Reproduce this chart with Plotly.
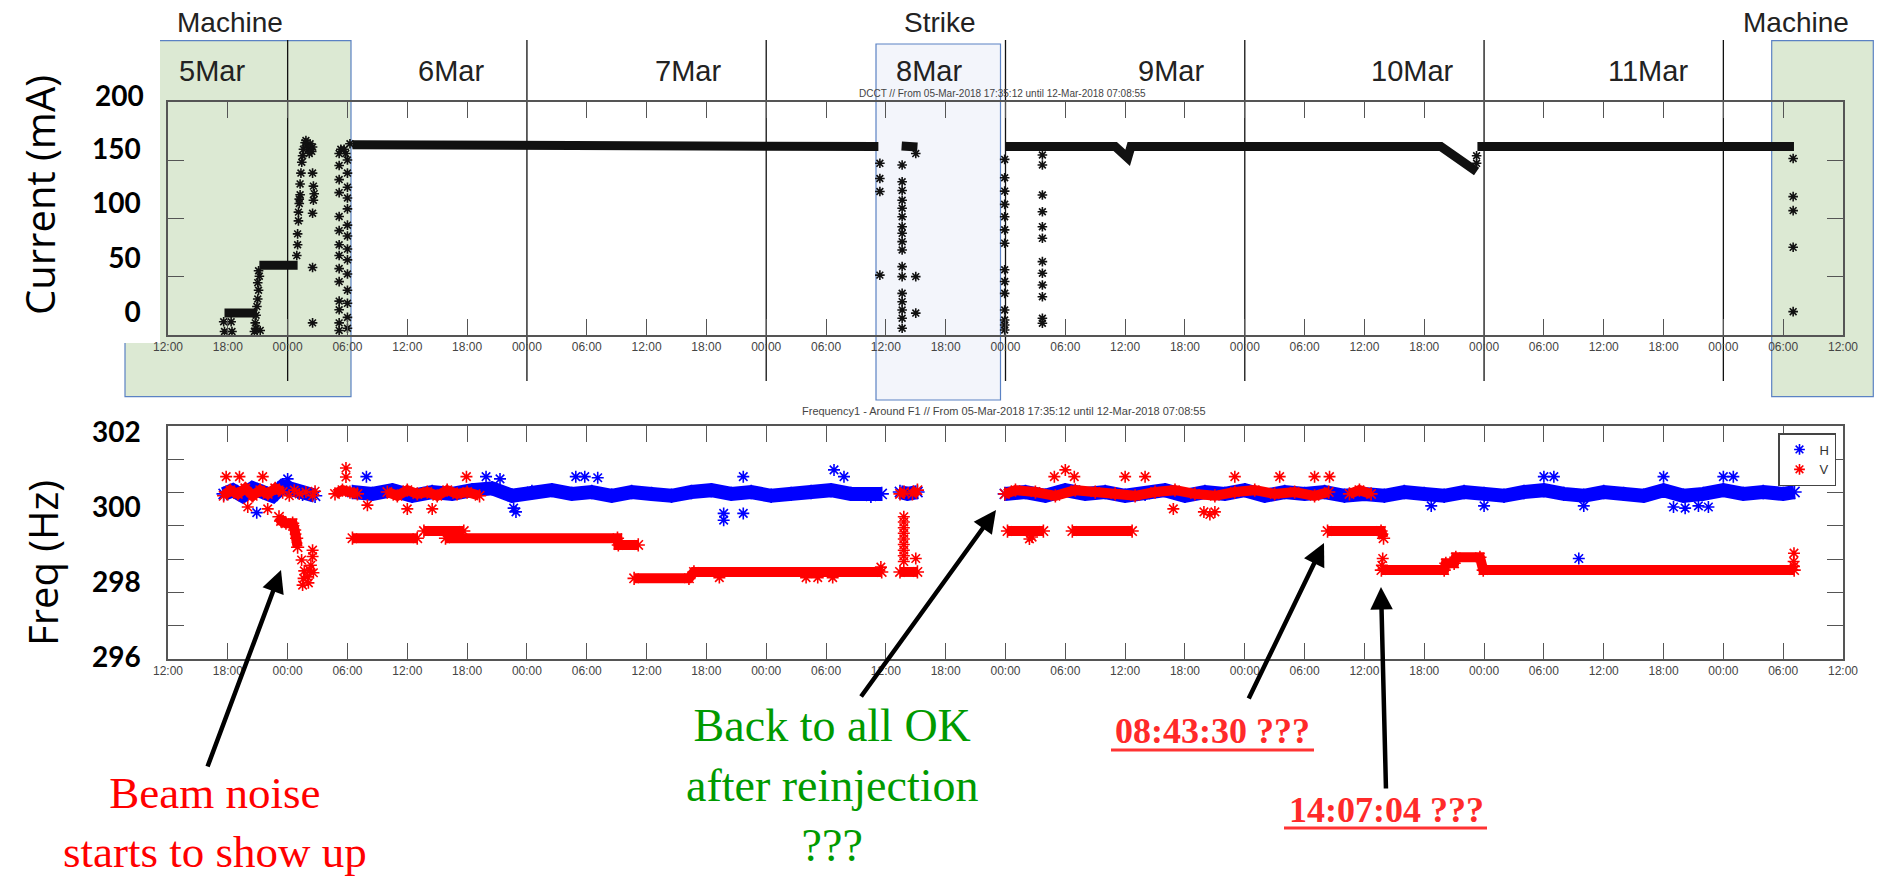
import plotly.graph_objects as go

# ---------------- DATA ----------------
# Top panel: beam current (mA)
cur_band_time = ["2018-03-05 17:40", "2018-03-05 20:55", None,
                 "2018-03-05 21:10", "2018-03-06 01:00", None,
                 "2018-03-06 06:30", "2018-03-08 11:15", None,
                 "2018-03-08 13:35", "2018-03-08 15:10", None,
                 "2018-03-08 23:58", "2018-03-09 11:00", "2018-03-09 12:15", "2018-03-09 12:35",
                 "2018-03-10 19:40", "2018-03-10 23:15", None,
                 "2018-03-10 23:20", "2018-03-12 07:05"]
cur_band_value = [-1, -1, None,
                  43, 43, None,
                  154, 152.5, None,
                  153, 152, None,
                  152.5, 152.5, 142, 152.5,
                  152.5, 129.5, None,
                  152.5, 152.5]

cur_pts_time = ["2018-03-05 17:35", "2018-03-05 17:40", "2018-03-05 18:20", "2018-03-05 18:25",
                "2018-03-05 20:40", "2018-03-05 20:45", "2018-03-05 20:50", "2018-03-05 20:55", "2018-03-05 21:00",
                "2018-03-05 21:05", "2018-03-05 21:00", "2018-03-05 21:10", "2018-03-05 21:05", "2018-03-05 20:50", "2018-03-05 21:15",
                "2018-03-06 00:55", "2018-03-06 01:00", "2018-03-06 01:00", "2018-03-06 01:05", "2018-03-06 01:05", "2018-03-06 01:10",
                "2018-03-06 01:10", "2018-03-06 01:15", "2018-03-06 01:15", "2018-03-06 01:20",
                "2018-03-06 01:25", "2018-03-06 01:35", "2018-03-06 01:45", "2018-03-06 01:55", "2018-03-06 02:05", "2018-03-06 02:15", "2018-03-06 02:25",
                "2018-03-06 01:30", "2018-03-06 01:50", "2018-03-06 02:10", "2018-03-06 02:30",
                "2018-03-06 02:30", "2018-03-06 02:35", "2018-03-06 02:40", "2018-03-06 02:35", "2018-03-06 02:30", "2018-03-06 02:30", "2018-03-06 02:30",
                "2018-03-06 05:10", "2018-03-06 05:10", "2018-03-06 05:10", "2018-03-06 05:10", "2018-03-06 05:10", "2018-03-06 05:10",
                "2018-03-06 05:10", "2018-03-06 05:10", "2018-03-06 05:10", "2018-03-06 05:10", "2018-03-06 05:10", "2018-03-06 05:10",
                "2018-03-06 05:10", "2018-03-06 05:10", "2018-03-06 05:20",
                "2018-03-06 06:00", "2018-03-06 06:00", "2018-03-06 06:00", "2018-03-06 06:00", "2018-03-06 06:00", "2018-03-06 06:00",
                "2018-03-06 06:00", "2018-03-06 06:00", "2018-03-06 06:00", "2018-03-06 06:00", "2018-03-06 06:00", "2018-03-06 06:00",
                "2018-03-06 06:00", "2018-03-06 06:00", "2018-03-06 05:40", "2018-03-06 05:50", "2018-03-06 06:15",
                "2018-03-08 11:24", "2018-03-08 11:24", "2018-03-08 11:24", "2018-03-08 11:24",
                "2018-03-08 13:38", "2018-03-08 13:38", "2018-03-08 13:38", "2018-03-08 13:38", "2018-03-08 13:38", "2018-03-08 13:38",
                "2018-03-08 13:38", "2018-03-08 13:38", "2018-03-08 13:38", "2018-03-08 13:38", "2018-03-08 13:38", "2018-03-08 13:38",
                "2018-03-08 13:38", "2018-03-08 13:38", "2018-03-08 13:38", "2018-03-08 13:38", "2018-03-08 13:38",
                "2018-03-08 15:00", "2018-03-08 15:00", "2018-03-08 15:00",
                "2018-03-08 23:55", "2018-03-08 23:55", "2018-03-08 23:55", "2018-03-08 23:55", "2018-03-08 23:55", "2018-03-08 23:55",
                "2018-03-08 23:55", "2018-03-08 23:55", "2018-03-08 23:55", "2018-03-08 23:55", "2018-03-08 23:55", "2018-03-08 23:55",
                "2018-03-08 23:55", "2018-03-08 23:55",
                "2018-03-09 03:42", "2018-03-09 03:42", "2018-03-09 03:42", "2018-03-09 03:42", "2018-03-09 03:42", "2018-03-09 03:42",
                "2018-03-09 03:42", "2018-03-09 03:42", "2018-03-09 03:42", "2018-03-09 03:42", "2018-03-09 03:42", "2018-03-09 03:42",
                "2018-03-10 23:15", "2018-03-10 23:15",
                "2018-03-12 07:00", "2018-03-12 07:00", "2018-03-12 07:00", "2018-03-12 07:00", "2018-03-12 07:00"]
cur_pts_value = [-9, -18, -9, -18,
                 -18, -10, -3, 5, 12,
                 20, 27, 33, 38, -15, -17,
                 52, 62, 72, 84, 92, 100,
                 104, 108, 118, 128,
                 138, 150, 156, 153, 150, 155, 148,
                 144, 158, 146, 152,
                 128, 116, 109, 103, 91, 41, -10,
                 -17, -10, 2, 10, 28, 40,
                 52, 62, 75, 88, 110, 122,
                 135, 146, 150,
                 -15, -5, 8, 20, 35, 48,
                 58, 70, 80, 95, 105, 115,
                 128, 140, 150, 146, 155,
                 137, 123, 111, 34,
                 135.5, 120, 112, 103, 95.6, 87.8,
                 78.6, 72.5, 64.8, 57.1, 41.8, 32.6,
                 17.2, 9.5, 1.8, -5.8, -15,
                 146, 32.6, -1,
                 140.6, 123.7, 111.4, 99.2, 87.8, 75.7,
                 63.4, 38.9, 28.1, 17.2, 1.8, -7.4,
                 -12, -16.6,
                 144.7, 135.5, 107.8, 92.4, 78.6, 67.9,
                 46.4, 35.7, 24.9, 14.1, -5.8, -10.4,
                 144, 137,
                 141.5, 106.3, 93.4, 59.6, 0.3]

# Bottom panel: tune frequency, H (blue) band
h_band_time = ["2018-03-05 17:35", "2018-03-05 18:30", "2018-03-05 19:30", "2018-03-05 20:30", "2018-03-05 21:30",
               "2018-03-05 22:30", "2018-03-05 23:30", "2018-03-06 00:30", "2018-03-06 01:30", "2018-03-06 02:45", None,
               "2018-03-06 06:30", "2018-03-06 08:30", "2018-03-06 10:30", "2018-03-06 12:30", "2018-03-06 14:30",
               "2018-03-06 16:30", "2018-03-06 18:30", "2018-03-06 20:30", "2018-03-06 22:30",
               "2018-03-07 00:30", "2018-03-07 02:30", "2018-03-07 04:30", "2018-03-07 06:30", "2018-03-07 08:30",
               "2018-03-07 10:30", "2018-03-07 12:30", "2018-03-07 14:30", "2018-03-07 16:30", "2018-03-07 18:30",
               "2018-03-07 20:30", "2018-03-07 22:30",
               "2018-03-08 00:30", "2018-03-08 02:30", "2018-03-08 04:30", "2018-03-08 06:30", "2018-03-08 08:30",
               "2018-03-08 10:30", "2018-03-08 11:35", None,
               "2018-03-08 13:25", "2018-03-08 14:10", "2018-03-08 15:10", None,
               "2018-03-08 23:56", "2018-03-09 02:00", "2018-03-09 04:00", "2018-03-09 06:00", "2018-03-09 08:00",
               "2018-03-09 10:00", "2018-03-09 12:00", "2018-03-09 14:00", "2018-03-09 16:00", "2018-03-09 18:00",
               "2018-03-09 20:00", "2018-03-09 22:00",
               "2018-03-10 00:00", "2018-03-10 02:00", "2018-03-10 04:00", "2018-03-10 06:00", "2018-03-10 08:00",
               "2018-03-10 10:00", "2018-03-10 12:00", "2018-03-10 14:00", "2018-03-10 16:00", "2018-03-10 18:00",
               "2018-03-10 20:00", "2018-03-10 22:00",
               "2018-03-11 00:00", "2018-03-11 02:00", "2018-03-11 04:00", "2018-03-11 06:00", "2018-03-11 08:00",
               "2018-03-11 10:00", "2018-03-11 12:00", "2018-03-11 14:00", "2018-03-11 16:00", "2018-03-11 18:00",
               "2018-03-11 20:00", "2018-03-11 22:00",
               "2018-03-12 00:00", "2018-03-12 02:00", "2018-03-12 04:00", "2018-03-12 06:00", "2018-03-12 07:08"]
h_band_value = [300.35, 300.45, 300.3, 300.5, 300.4,
                300.3, 300.55, 300.45, 300.35, 300.3, None,
                300.4, 300.35, 300.45, 300.3, 300.4,
                300.35, 300.45, 300.5, 300.3,
                300.4, 300.45, 300.35, 300.4, 300.3,
                300.4, 300.35, 300.3, 300.4, 300.45,
                300.35, 300.4,
                300.3, 300.35, 300.4, 300.45, 300.35,
                300.3, 300.35, None,
                300.4, 300.35, 300.4, None,
                300.35, 300.4, 300.3, 300.45, 300.35,
                300.4, 300.3, 300.35, 300.45, 300.3,
                300.4, 300.35,
                300.45, 300.3, 300.4, 300.35, 300.4,
                300.3, 300.35, 300.3, 300.4, 300.35,
                300.3, 300.4,
                300.35, 300.3, 300.4, 300.45, 300.35,
                300.3, 300.4, 300.35, 300.3, 300.45,
                300.3, 300.35,
                300.45, 300.35, 300.4, 300.35, 300.4]

h_pts_time = ["2018-03-05 20:54", "2018-03-06 00:00", "2018-03-06 07:54", "2018-03-06 19:54", "2018-03-06 21:18",
              "2018-03-06 22:54", "2018-03-06 22:40", "2018-03-07 04:54", "2018-03-07 05:48", "2018-03-07 07:06",
              "2018-03-07 19:44", "2018-03-07 19:44", "2018-03-07 21:42", "2018-03-07 21:42", "2018-03-08 06:48",
              "2018-03-08 07:48", "2018-03-10 18:42", "2018-03-11 00:00", "2018-03-11 06:00", "2018-03-11 07:00",
              "2018-03-11 09:30", "2018-03-11 10:00", "2018-03-11 18:00", "2018-03-11 19:00", "2018-03-11 20:10",
              "2018-03-11 21:30", "2018-03-11 22:30", "2018-03-12 00:00", "2018-03-12 01:00"]
h_pts_value = [299.85, 300.75, 300.81, 300.81, 300.75,
               299.87, 299.97, 300.81, 300.81, 300.78,
               299.65, 299.83, 299.83, 300.81, 300.99,
               300.81, 300.03, 300.03, 300.81, 300.81,
               298.63, 300.03, 300.81, 300.0, 299.97,
               300.03, 300.0, 300.81, 300.81]

# Bottom panel: V (red) bands
v_band_time = ["2018-03-05 17:35", "2018-03-05 18:15", "2018-03-05 19:00", "2018-03-05 19:45", "2018-03-05 20:30",
               "2018-03-05 21:15", "2018-03-05 22:00", "2018-03-05 22:45", "2018-03-05 23:30", None,
               "2018-03-05 23:08", "2018-03-05 23:20", "2018-03-05 23:50", "2018-03-06 00:30", "2018-03-06 00:42",
               "2018-03-06 00:54", "2018-03-06 01:00", None,
               "2018-03-06 04:45", "2018-03-06 05:30", "2018-03-06 06:15", "2018-03-06 07:00", None,
               "2018-03-06 10:00", "2018-03-06 11:00", "2018-03-06 12:00", "2018-03-06 13:00", "2018-03-06 14:00",
               "2018-03-06 15:00", "2018-03-06 16:00", "2018-03-06 17:00", "2018-03-06 18:00", "2018-03-06 19:15", None,
               "2018-03-06 06:30", "2018-03-06 13:00", None,
               "2018-03-06 13:40", "2018-03-06 17:40", None,
               "2018-03-06 15:50", "2018-03-07 09:05", "2018-03-07 09:10", "2018-03-07 11:10", None,
               "2018-03-07 10:45", "2018-03-07 16:15", "2018-03-07 16:45", "2018-03-08 11:35", None,
               "2018-03-08 13:25", "2018-03-08 13:50", None,
               "2018-03-08 14:40", "2018-03-08 15:10", None,
               "2018-03-08 13:25", "2018-03-08 15:10", None,
               "2018-03-08 23:56", "2018-03-09 01:00", "2018-03-09 03:00", "2018-03-09 05:00", "2018-03-09 07:00",
               "2018-03-09 09:00", "2018-03-09 11:00", "2018-03-09 13:00", "2018-03-09 15:00", "2018-03-09 17:00",
               "2018-03-09 19:00", "2018-03-09 21:00", "2018-03-09 23:00", "2018-03-10 01:00", "2018-03-10 03:00",
               "2018-03-10 05:00", "2018-03-10 07:00", "2018-03-10 08:25", None,
               "2018-03-10 10:30", "2018-03-10 11:30", "2018-03-10 12:40", None,
               "2018-03-09 00:12", "2018-03-09 03:48", None,
               "2018-03-09 06:42", "2018-03-09 12:42", None,
               "2018-03-10 08:18", "2018-03-10 13:40", "2018-03-10 13:55", None,
               "2018-03-10 13:42", "2018-03-10 20:00", "2018-03-10 20:10", "2018-03-10 21:00", "2018-03-10 21:10",
               "2018-03-10 23:35", "2018-03-10 23:55", "2018-03-12 07:06"]
v_band_value = [300.3, 300.45, 300.35, 300.5, 300.3,
                300.45, 300.35, 300.5, 300.4, None,
                299.74, 299.63, 299.57, 299.57, 299.39,
                299.17, 298.93, None,
                300.35, 300.45, 300.4, 300.35, None,
                300.4, 300.3, 300.45, 300.35, 300.4,
                300.3, 300.45, 300.35, 300.4, 300.3, None,
                299.17, 299.17, None,
                299.36, 299.36, None,
                299.17, 299.17, 298.99, 298.99, None,
                298.1, 298.1, 298.27, 298.27, None,
                300.35, 300.4, None,
                300.35, 300.45, None,
                298.27, 298.27, None,
                300.35, 300.45, 300.4, 300.3, 300.45,
                300.4, 300.35, 300.3, 300.4, 300.45,
                300.35, 300.3, 300.4, 300.45, 300.35,
                300.4, 300.3, 300.4, None,
                300.35, 300.45, 300.35, None,
                299.36, 299.36, None,
                299.36, 299.36, None,
                299.36, 299.36, 299.17, None,
                298.32, 298.32, 298.5, 298.5, 298.66,
                298.66, 298.32, 298.32]

v_pts_time = ["2018-03-05 17:50", "2018-03-05 19:10", "2018-03-05 21:30", "2018-03-05 20:00", "2018-03-05 22:00",
              "2018-03-06 00:10", "2018-03-06 00:40", "2018-03-06 01:10", "2018-03-06 01:50", "2018-03-06 02:30", "2018-03-06 02:45",
              "2018-03-06 01:24", "2018-03-06 01:30", "2018-03-06 01:36", "2018-03-06 01:40", "2018-03-06 02:00", "2018-03-06 02:05",
              "2018-03-06 02:12", "2018-03-06 02:20", "2018-03-06 02:30", "2018-03-06 02:30", "2018-03-06 02:35",
              "2018-03-06 05:51", "2018-03-06 05:51", "2018-03-06 17:56", "2018-03-06 12:00", "2018-03-06 14:30", "2018-03-06 08:00",
              "2018-03-07 19:18", "2018-03-08 04:00", "2018-03-08 05:10", "2018-03-08 06:40", "2018-03-08 11:30",
              "2018-03-08 13:48", "2018-03-08 13:48", "2018-03-08 13:48", "2018-03-08 13:48", "2018-03-08 13:48",
              "2018-03-08 13:48", "2018-03-08 13:48", "2018-03-08 13:48", "2018-03-08 13:48", "2018-03-08 15:00",
              "2018-03-09 04:54", "2018-03-09 06:00", "2018-03-09 06:54", "2018-03-09 02:24", "2018-03-09 02:40",
              "2018-03-09 16:50", "2018-03-09 19:54", "2018-03-09 21:00", "2018-03-09 20:30", "2018-03-09 12:00",
              "2018-03-09 14:00", "2018-03-09 23:00", "2018-03-10 03:30", "2018-03-10 07:00", "2018-03-10 08:30",
              "2018-03-10 13:50", "2018-03-10 13:45",
              "2018-03-12 07:05", "2018-03-12 07:05", "2018-03-12 07:03"]
v_pts_value = [300.81, 300.81, 300.81, 300.0, 299.95,
               300.3, 300.45, 300.35, 300.4, 300.3, 300.42,
               298.59, 297.92, 298.1, 298.3, 298.14, 297.98,
               298.32, 298.45, 298.68, 298.85, 298.25,
               301.04, 300.8, 300.81, 299.95, 299.95, 300.05,
               298.12, 298.12, 298.12, 298.12, 298.4,
               299.74, 299.6, 299.45, 299.3, 299.15,
               299.0, 298.85, 298.7, 298.55, 298.63,
               300.81, 300.99, 300.81, 299.15, 299.2,
               299.95, 299.87, 299.87, 299.8, 300.81,
               300.81, 300.81, 300.81, 300.81, 300.81,
               298.63, 298.45,
               298.77, 298.42, 298.55]

day_lines = ["2018-03-06", "2018-03-07", "2018-03-08", "2018-03-09", "2018-03-10", "2018-03-11", "2018-03-12"]
day_labels = ["5Mar", "6Mar", "7Mar", "8Mar", "9Mar", "10Mar", "11Mar"]
day_label_x = [212, 451, 688, 929, 1171, 1412, 1648]

cur_ticks = [0, 50, 100, 150]
freq_ticks = [296, 298, 300, 302]

# ---------------- FIGURE ----------------
W, H = 1878, 880
def px(x):
    return x / W
def py(y):
    return 1 - y / H

BLUE = "#0000ff"
RED = "#ff0000"
fig = go.Figure()

star = lambda c, s=8: dict(symbol="asterisk-open", size=s, color=c, line=dict(color=c, width=1.6))

fig.add_trace(go.Scatter(x=cur_band_time, y=cur_band_value, mode="lines", line=dict(color="#111", width=9),
                         xaxis="x", yaxis="y", showlegend=False, hoverinfo="skip"))
fig.add_trace(go.Scatter(x=cur_pts_time, y=cur_pts_value, mode="markers", marker=star("#111", 8),
                         xaxis="x", yaxis="y", showlegend=False))

fig.add_trace(go.Scatter(x=h_band_time, y=h_band_value, mode="lines+markers", line=dict(color=BLUE, width=14),
                         marker=star(BLUE, 12), xaxis="x2", yaxis="y2", showlegend=False))
fig.add_trace(go.Scatter(x=h_pts_time, y=h_pts_value, mode="markers", marker=star(BLUE, 10),
                         xaxis="x2", yaxis="y2", showlegend=False))
fig.add_trace(go.Scatter(x=v_band_time, y=v_band_value, mode="lines+markers", line=dict(color=RED, width=10),
                         marker=star(RED, 11), xaxis="x2", yaxis="y2", showlegend=False))
fig.add_trace(go.Scatter(x=v_pts_time, y=v_pts_value, mode="markers", marker=star(RED, 10),
                         xaxis="x2", yaxis="y2", showlegend=False))
# legend entries
fig.add_trace(go.Scatter(x=[None], y=[None], mode="markers", marker=star(BLUE, 9), name="H", xaxis="x2", yaxis="y2"))
fig.add_trace(go.Scatter(x=[None], y=[None], mode="markers", marker=star(RED, 9), name="V", xaxis="x2", yaxis="y2"))

xcommon = dict(type="date", range=["2018-03-05 12:00", "2018-03-12 12:00"], tick0="2018-03-05 12:00",
               dtick=21600000, tickformat="%H:%M", ticks="inside", ticklen=16, tickwidth=1.4, tickcolor="#555",
               showline=True, linecolor="#555", linewidth=1.5, mirror="allticks", showgrid=False, zeroline=False,
               tickfont=dict(family="Liberation Sans Narrow, Liberation Sans, Arial", size=12, color="#444"),
               domain=[px(168), px(1843)], automargin=False)
ycommon = dict(showline=True, linecolor="#555", linewidth=1.5, mirror="allticks", showgrid=False, zeroline=False,
               ticks="", tickfont=dict(family="Lato, Open Sans", size=28, color="black", weight="bold"),
               ticklabelstandoff=20, automargin=False)

fig.update_layout(
    width=W, height=H, margin=dict(l=0, r=0, t=0, b=0, autoexpand=False),
    paper_bgcolor="white", plot_bgcolor="rgba(0,0,0,0)",
    xaxis=dict(**xcommon, anchor="y"),
    xaxis2=dict(**xcommon, anchor="y2"),
    yaxis=dict(**ycommon, domain=[py(335), py(102)], range=[-21.2, 193.5], tickvals=cur_ticks,
               minor=dict(tickvals=[32.5, 86.2, 139.9], ticks="inside", ticklen=16, tickwidth=1.4, tickcolor="#555")),
    yaxis2=dict(**ycommon, domain=[py(659), py(426)], range=[295.95, 302.16], tickvals=freq_ticks,
                minor=dict(tickvals=[296.83, 297.72, 298.61, 299.50, 300.38, 301.27], ticks="inside", ticklen=16,
                           tickwidth=1.4, tickcolor="#555")),
    legend=dict(x=px(1836), y=py(433), xanchor="right", yanchor="top", bgcolor="white",
                bordercolor="#444", borderwidth=1.5, font=dict(family="Liberation Sans", size=13, color="#333"),
                itemwidth=30, tracegroupgap=2),
)

GREEN = "#dce9d3"
BORDER = "#5b82c4"
shapes = [
    dict(type="rect", xref="paper", yref="paper", x0=px(125), x1=px(351), y0=py(396.7), y1=py(40.7),
         fillcolor=GREEN, line=dict(color=BORDER, width=1.2), layer="below"),
    dict(type="rect", xref="paper", yref="paper", x0=px(118), x1=px(160), y0=py(343), y1=py(36),
         fillcolor="white", line=dict(width=0), layer="below"),
    dict(type="rect", xref="paper", yref="paper", x0=px(876), x1=px(1000.5), y0=py(400), y1=py(44),
         fillcolor="#f3f5fb", line=dict(color=BORDER, width=1.2), layer="below"),
    dict(type="rect", xref="paper", yref="paper", x0=px(1771.7), x1=px(1873.3), y0=py(396.7), y1=py(40.7),
         fillcolor=GREEN, line=dict(color=BORDER, width=1.2), layer="below"),
]
for d in day_lines:
    shapes.append(dict(type="line", xref="x", yref="paper", x0=d, x1=d, y0=py(381), y1=py(40),
                       line=dict(color="#111", width=1.3), layer="below"))
# underlines for the timestamps
shapes.append(dict(type="line", xref="paper", yref="paper", x0=px(1111), x1=px(1314), y0=py(750), y1=py(750),
                   line=dict(color="#ff3333", width=3)))
shapes.append(dict(type="line", xref="paper", yref="paper", x0=px(1284), x1=px(1487), y0=py(828), y1=py(828),
                   line=dict(color="#ff3333", width=3)))
fig.update_layout(shapes=shapes)

ann = []
def txt(x, y, s, size, color="#111", family="Liberation Sans, Arial", angle=0, weight="normal", xanchor="center"):
    ann.append(dict(x=px(x), y=py(y), xref="paper", yref="paper", text=s, showarrow=False, textangle=angle,
                    xanchor=xanchor, yanchor="middle",
                    font=dict(family=family, size=size, color=color, weight=weight)))

for lab, xx in zip(day_labels, day_label_x):
    txt(xx, 71, lab, 29, "#222")
txt(230, 22, "Machine", 28, "#222")
txt(940, 22, "Strike", 28, "#222")
txt(1796, 22, "Machine", 28, "#222")
txt(1003, 93, "DCCT // From 05-Mar-2018 17:35:12 until 12-Mar-2018 07:08:55", 10, "#444",
    family="Liberation Sans Narrow, Liberation Sans")
txt(1004, 411, "Frequency1 - Around F1 // From 05-Mar-2018 17:35:12 until 12-Mar-2018 07:08:55", 11, "#444",
    family="Liberation Sans Narrow, Liberation Sans")
txt(40, 195, "Current (mA)", 40, "black", family="Open Sans", angle=-90)
txt(42, 563, "Freq (Hz)", 40, "black", family="Open Sans", angle=-90)
txt(146, 95, "200", 28, "black", family="Lato, Open Sans", weight="bold", xanchor="right")

serif = "Liberation Serif, Times New Roman"
txt(215, 822, "Beam noise<br>starts to show up", 45, RED, family=serif)
txt(832, 785, "Back to all OK<br>after reinjection<br>???", 46, "#009a00", family=serif)
txt(1212, 731, "08:43:30 ???", 36, "#ff2a2a", family=serif, weight="bold")
txt(1386, 810, "14:07:04 ???", 36, "#ff2a2a", family=serif, weight="bold")

for (tx, ty, sx, sy) in [(281, 570, 207, 768), (996, 510, 860, 698), (1324, 543, 1248, 700), (1381, 587, 1386, 790)]:
    ann.append(dict(x=px(tx), y=py(ty), xref="paper", yref="paper", text="", showarrow=True,
                    ax=sx - tx, ay=sy - ty, axref="pixel", ayref="pixel",
                    arrowhead=2, arrowsize=1.0, arrowwidth=4.5, arrowcolor="black", standoff=0))
fig.update_layout(annotations=ann)

fig.write_html("out.html")
